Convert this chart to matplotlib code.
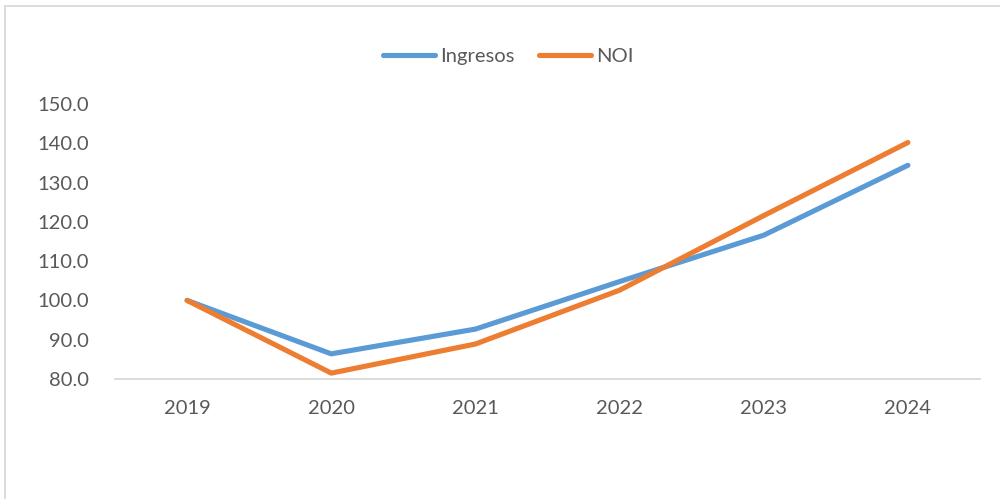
import numpy as np
import matplotlib
matplotlib.use("Agg")
from matplotlib import pyplot as plt
from matplotlib.patches import Rectangle

plt.rcParams['font.family'] = ['Lato', 'DejaVu Sans']

years = ["2019", "2020", "2021", "2022", "2023", "2024"]
ingresos = [100.0, 86.4, 92.7, 104.8, 116.6, 134.4]
noi = [100.0, 81.5, 88.9, 102.6, 121.6, 140.2]
yticks = [80, 90, 100, 110, 120, 130, 140, 150]

blue = "#5B9BD5"
orange = "#ED7D31"
txt = "#595959"

fig = plt.figure(figsize=(10, 4.99), dpi=100)
ax = fig.add_axes([0.115, 0.2405, 0.865, 0.5511])

x = np.arange(len(years))
ax.plot(x, ingresos, color=blue, lw=3.7, solid_capstyle='round', solid_joinstyle='round', label="Ingresos")
ax.plot(x, noi, color=orange, lw=3.7, solid_capstyle='round', solid_joinstyle='round', label="NOI")

ax.set_xlim(-0.5, len(years) - 0.5)
ax.set_ylim(80, 150)
ax.set_xticks(x)
ax.set_xticklabels(years)
ax.set_yticks(yticks)
ax.set_yticklabels(["%.1f" % v for v in yticks])
ax.tick_params(axis='both', length=0, labelsize=14.5, colors=txt)
ax.tick_params(axis='y', pad=19)
ax.tick_params(axis='x', pad=15)

for s in ['top', 'right', 'left']:
    ax.spines[s].set_visible(False)
ax.spines['bottom'].set_color("#D9D9D9")
ax.spines['bottom'].set_linewidth(1.3)
ax.spines['bottom'].set_zorder(0)

fig.legend(loc='center', bbox_to_anchor=(0.508, 0.886), ncol=2, frameon=False,
           fontsize=14.5, labelcolor=txt, handlelength=2.6, handletextpad=0.25,
           columnspacing=1.2)

# chart border (only top and left visible in the crop)
fig.patches.append(Rectangle((0.005, -0.5), 2.0, 1.5 - 6 / 499, transform=fig.transFigure,
                             fill=False, edgecolor="#D9D9D9", lw=1.3))

fig.savefig("out.png", dpi=100)
